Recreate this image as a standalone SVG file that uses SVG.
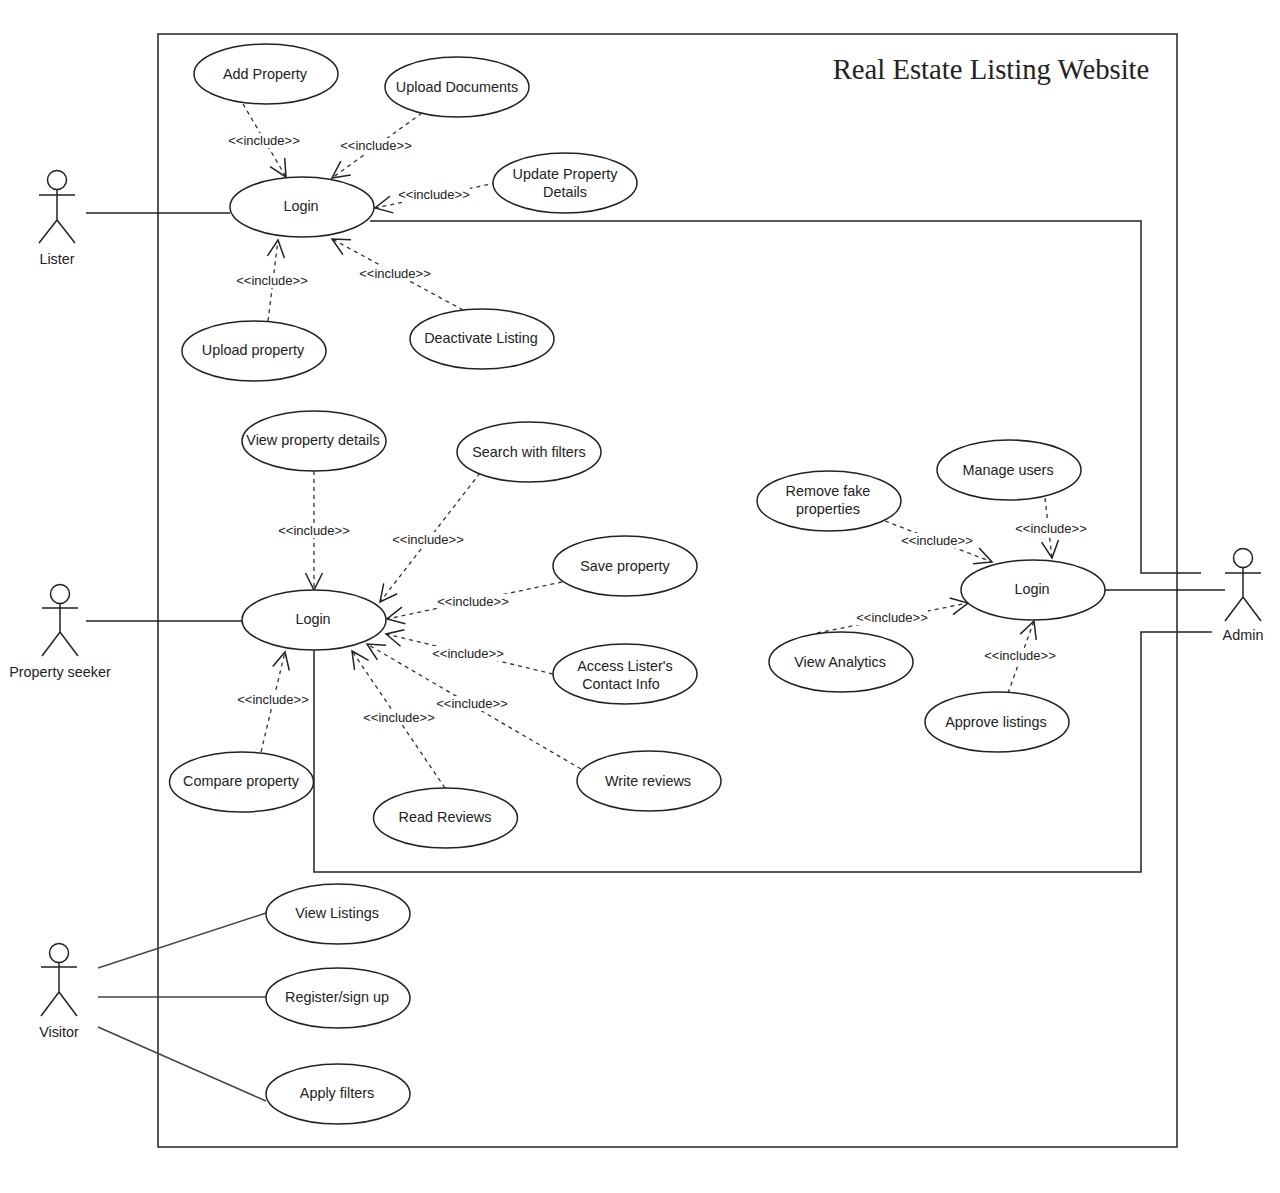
<svg xmlns="http://www.w3.org/2000/svg" width="1280" height="1193" viewBox="0 0 1280 1193">
<style>
text{font-family:"Liberation Sans",Arial,sans-serif;fill:#222;text-anchor:middle}
.n text,.a text{font-size:14.4px}
.l{font-size:13px}
.n ellipse{fill:#fff;stroke:#222;stroke-width:1.5}
.a circle,.a path{fill:#fff;stroke:#222;stroke-width:1.5}
.a path{fill:none}
.d{fill:none;stroke:#333;stroke-width:1.3;stroke-dasharray:4 4;}
.h{fill:none;stroke:#222;stroke-width:1.5}
.s{fill:none;stroke:#222;stroke-width:1.5}
.v{fill:none;stroke:#444;stroke-width:1.5}
.b{fill:#fff;stroke:none}
</style>
<defs>
<marker id="o" viewBox="-18 -10 20 20" refX="0" refY="0" markerWidth="20" markerHeight="20" markerUnits="userSpaceOnUse" orient="auto"><path class="h" d="M-17-8.5L0 0L-17 8.5"/></marker>
</defs>
<rect x="158" y="34" width="1019" height="1113" fill="#fff" stroke="#222" stroke-width="1.5"/>
<text x="991" y="79" style="font-family:'Liberation Serif',serif;font-size:28.7px">Real Estate Listing Website</text>
<g id="connectors">
<path class="s" d="M86 213H230M370 221H1141V573H1201M1105 590H1225M1212 632H1141V872H314V650M86 621H242"/>
<path class="v" d="M98 968L266 913M98 997H266M98 1027L266 1101"/>
<g marker-end="url(#o)" class="d">
<path d="M243 104L286 177"/>
<path d="M422 113L332 178"/>
<path d="M496 183L375 208"/>
<path d="M268 321L278 240"/>
<path d="M463 310L332 239"/>
<path d="M314 471V590"/>
<path d="M480 473L380 602"/>
<path d="M562 582L387 619"/>
<path d="M553 674L386 634"/>
<path d="M581 769L367 644"/>
<path d="M445 788L352 651"/>
<path d="M261 752L285 652"/>
<path d="M885 521L992 562"/>
<path d="M1045 498L1052 558"/>
<path d="M817 633L968 603"/>
<path d="M1008 693L1034 621"/>
</g>
</g>
<g id="labels">
<rect class="b" x="228" y="133" width="72" height="15"/><text class="l" x="264" y="145">&lt;&lt;include&gt;&gt;</text>
<rect class="b" x="340" y="138" width="72" height="15"/><text class="l" x="376" y="150">&lt;&lt;include&gt;&gt;</text>
<rect class="b" x="398" y="187" width="72" height="15"/><text class="l" x="434" y="199">&lt;&lt;include&gt;&gt;</text>
<rect class="b" x="236" y="273" width="72" height="15"/><text class="l" x="272" y="285">&lt;&lt;include&gt;&gt;</text>
<rect class="b" x="359" y="266" width="72" height="15"/><text class="l" x="395" y="278">&lt;&lt;include&gt;&gt;</text>
<rect class="b" x="278" y="523" width="72" height="15"/><text class="l" x="314" y="535">&lt;&lt;include&gt;&gt;</text>
<rect class="b" x="392" y="532" width="72" height="15"/><text class="l" x="428" y="544">&lt;&lt;include&gt;&gt;</text>
<rect class="b" x="437" y="594" width="72" height="15"/><text class="l" x="473" y="606">&lt;&lt;include&gt;&gt;</text>
<rect class="b" x="432" y="646" width="72" height="15"/><text class="l" x="468" y="658">&lt;&lt;include&gt;&gt;</text>
<rect class="b" x="436" y="696" width="72" height="15"/><text class="l" x="472" y="708">&lt;&lt;include&gt;&gt;</text>
<rect class="b" x="363" y="710" width="72" height="15"/><text class="l" x="399" y="722">&lt;&lt;include&gt;&gt;</text>
<rect class="b" x="237" y="692" width="72" height="15"/><text class="l" x="273" y="704">&lt;&lt;include&gt;&gt;</text>
<rect class="b" x="901" y="533" width="72" height="15"/><text class="l" x="937" y="545">&lt;&lt;include&gt;&gt;</text>
<rect class="b" x="1015" y="521" width="72" height="15"/><text class="l" x="1051" y="533">&lt;&lt;include&gt;&gt;</text>
<rect class="b" x="856" y="610" width="72" height="15"/><text class="l" x="892" y="622">&lt;&lt;include&gt;&gt;</text>
<rect class="b" x="984" y="648" width="72" height="15"/><text class="l" x="1020" y="660">&lt;&lt;include&gt;&gt;</text>
</g>
<g id="uc-add" class="n"><ellipse cx="266" cy="74" rx="72" ry="30"/><text x="265" y="79">Add Property</text></g>
<g id="uc-docs" class="n"><ellipse cx="457" cy="87" rx="72" ry="30"/><text x="457" y="92">Upload Documents</text></g>
<g id="uc-update" class="n"><ellipse cx="565" cy="183" rx="72" ry="30"/><text x="565" y="179">Update Property</text><text x="565" y="197">Details</text></g>
<g id="uc-login1" class="n"><ellipse cx="302" cy="207" rx="72" ry="30"/><text x="301" y="211">Login</text></g>
<g id="uc-upload" class="n"><ellipse cx="254" cy="351" rx="72" ry="30"/><text x="253" y="355">Upload property</text></g>
<g id="uc-deact" class="n"><ellipse cx="482" cy="339" rx="72" ry="30"/><text x="481" y="343">Deactivate Listing</text></g>
<g id="uc-details" class="n"><ellipse cx="314" cy="441" rx="72" ry="30"/><text x="313" y="445">View property details</text></g>
<g id="uc-search" class="n"><ellipse cx="529" cy="452" rx="72" ry="30"/><text x="529" y="457">Search with filters</text></g>
<g id="uc-save" class="n"><ellipse cx="625" cy="566" rx="72" ry="30"/><text x="625" y="571">Save property</text></g>
<g id="uc-access" class="n"><ellipse cx="625" cy="674" rx="72" ry="30"/><text x="625" y="671">Access Lister's</text><text x="621" y="689">Contact Info</text></g>
<g id="uc-write" class="n"><ellipse cx="649" cy="781" rx="72" ry="30"/><text x="648" y="786">Write reviews</text></g>
<g id="uc-read" class="n"><ellipse cx="445.500" cy="818" rx="72" ry="30"/><text x="445" y="822">Read Reviews</text></g>
<g id="uc-compare" class="n"><ellipse cx="241.500" cy="782" rx="72" ry="30"/><text x="241" y="786">Compare property</text></g>
<g id="uc-login2" class="n"><ellipse cx="314" cy="620" rx="72" ry="30"/><text x="313" y="624">Login</text></g>
<g id="uc-listings" class="n"><ellipse cx="338" cy="914" rx="72" ry="30"/><text x="337" y="918">View Listings</text></g>
<g id="uc-register" class="n"><ellipse cx="338" cy="998" rx="72" ry="30"/><text x="337" y="1002">Register/sign up</text></g>
<g id="uc-filters" class="n"><ellipse cx="338" cy="1094" rx="72" ry="30"/><text x="337" y="1098">Apply filters</text></g>
<g id="uc-remove" class="n"><ellipse cx="829" cy="501" rx="72" ry="30"/><text x="828" y="496">Remove fake</text><text x="828" y="514">properties</text></g>
<g id="uc-manage" class="n"><ellipse cx="1009" cy="470" rx="72" ry="30"/><text x="1008" y="475">Manage users</text></g>
<g id="uc-login3" class="n"><ellipse cx="1033" cy="590" rx="72" ry="30"/><text x="1032" y="594">Login</text></g>
<g id="uc-analytics" class="n"><ellipse cx="841" cy="662" rx="72" ry="30"/><text x="840" y="667">View Analytics</text></g>
<g id="uc-approve" class="n"><ellipse cx="997" cy="722" rx="72" ry="30"/><text x="996" y="727">Approve listings</text></g>
<g id="actor-lister" class="a"><circle cx="57" cy="180" r="9.5"/><path d="M57 190V220M39 195H75M39 243L57 220L75 243"/><text x="57" y="264">Lister</text></g>
<g id="actor-seeker" class="a"><circle cx="60" cy="594" r="9.500"/><path d="M60 604V632M42 608H78M42 656L60 632L78 656"/><text x="60" y="677">Property seeker</text></g>
<g id="actor-visitor" class="a"><circle cx="59" cy="953" r="9.500"/><path d="M59 963V992M41 967H77M41 1016L59 992L77 1016"/><text x="59" y="1037">Visitor</text></g>
<g id="actor-admin" class="a"><circle cx="1243" cy="558" r="9.500"/><path d="M1243 568V597M1225 573H1261M1225 621L1243 597L1261 621"/><text x="1243" y="640">Admin</text></g>
</svg>
